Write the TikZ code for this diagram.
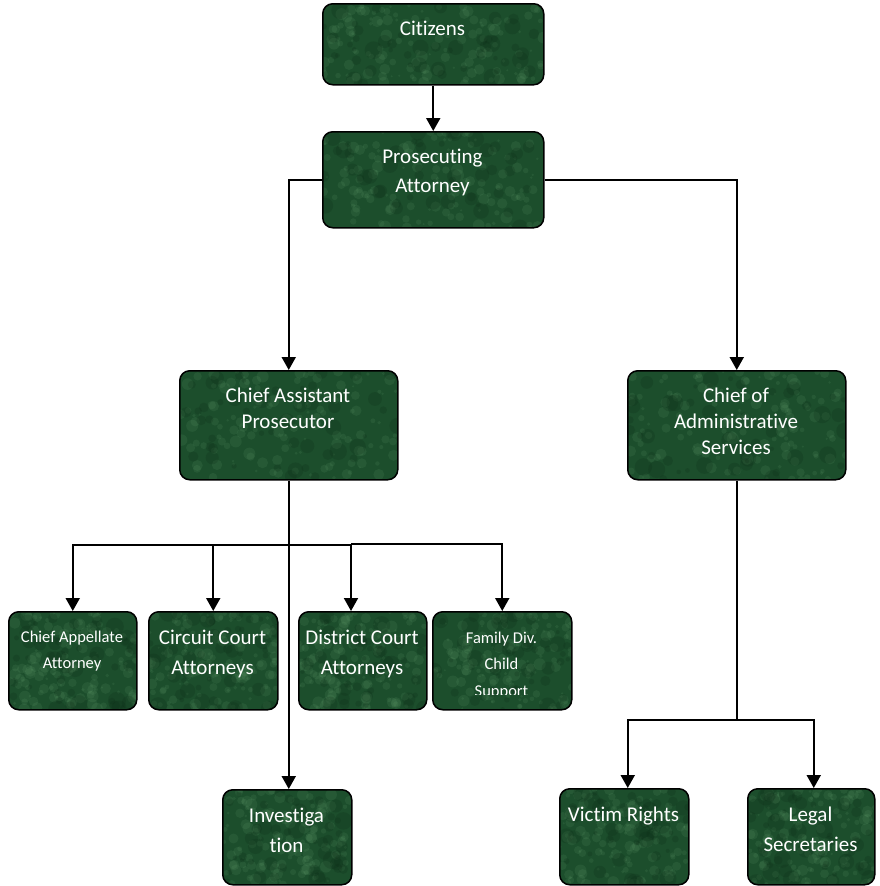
\documentclass[tikz,border=0pt]{standalone}
\usepackage{fontspec}
\setmainfont{Carlito}[Ligatures={NoCommon}]
\usetikzlibrary{arrows.meta}
\definecolor{boxgreen}{RGB}{28,78,44}
\definecolor{marblelight}{RGB}{110,170,120}
\definecolor{marbledark}{RGB}{10,40,20}
\newcommand\marbletex{%
  \pgfpointanchor{path picture bounding box}{south west}\pgfgetlastxy\mxa\mya
  \pgfpointanchor{path picture bounding box}{north east}\pgfgetlastxy\mxb\myb
  \foreach \k in {1,...,140}{%
    \pgfmathsetmacro\cxx{\mxa+rnd*(\mxb-\mxa)}%
    \pgfmathsetmacro\cyy{\mya+rnd*(\myb-\mya)}%
    \pgfmathsetmacro\crad{1+rnd*5}%
    \fill[marblelight,opacity=0.13] (\cxx pt,\cyy pt) circle[radius=\crad pt];}%
  \foreach \k in {1,...,50}{%
    \pgfmathsetmacro\cxx{\mxa+rnd*(\mxb-\mxa)}%
    \pgfmathsetmacro\cyy{\mya+rnd*(\myb-\mya)}%
    \pgfmathsetmacro\crad{2+rnd*7}%
    \fill[marbledark,opacity=0.2] (\cxx pt,\cyy pt) circle[radius=\crad pt];}%
}
\tikzset{
  orgbox/.style={draw=black, line width=1.5pt, rounded corners=10pt, fill=boxgreen,
    anchor=north west, inner sep=0pt, path picture={\marbletex}},
  lbl/.style={text=white, anchor=base, inner sep=0pt},
  conn/.style={draw=black, line width=2pt},
  arr/.style={conn, -{Triangle[length=13pt,width=14pt]}},
}
\newcommand\bigtxt[2]{\parbox[t]{#1}{\centering\fontsize{21}{27}\selectfont #2}}
\newcommand\bigtxtsp[3]{\parbox[t]{#1}{\centering\fontsize{21}{#2}\selectfont #3}}
\newcommand\smalltxt[2]{\parbox[t]{#1}{\centering\fontsize{16.5}{26.5}\selectfont #2}}
\begin{document}
\begin{tikzpicture}[x=1pt,y=-1pt]
\pgfmathsetseed{7}
\useasboundingbox (0,0) rectangle (879,886);
% boxes
\node[orgbox, minimum width=221pt, minimum height=81pt] (cit) at (322,3) {};
\node[orgbox, minimum width=221pt, minimum height=96pt] (pro) at (322,131) {};
\node[orgbox, minimum width=218pt, minimum height=109pt] (cap) at (179,370) {};
\node[orgbox, minimum width=218pt, minimum height=109pt] (cadm) at (627,370) {};
\node[orgbox, minimum width=128pt, minimum height=98pt] (app) at (8,611) {};
\node[orgbox, minimum width=129pt, minimum height=98pt] (circ) at (148,611) {};
\node[orgbox, minimum width=128pt, minimum height=98pt] (dist) at (298,611) {};
\node[orgbox, minimum width=139pt, minimum height=98pt] (fam) at (432,611) {};
\node[orgbox, minimum width=129pt, minimum height=95pt] (inv) at (222,789) {};
\node[orgbox, minimum width=129pt, minimum height=96pt] (vic) at (559,788) {};
\node[orgbox, minimum width=127pt, minimum height=96pt] (leg) at (747,788) {};
% labels
\node[lbl] (citT) at (432.5,35) {\bigtxt{215pt}{Citizens}};
\node[lbl] (proT) at (432.5,163) {\bigtxtsp{215pt}{29}{Prosecuting\\Attorney}};
\node[lbl] (capT) at (288,402) {\bigtxtsp{210pt}{26}{Chief Assistant\\Prosecutor}};
\node[lbl] (cadmT) at (736,402) {\bigtxtsp{210pt}{26}{Chief of\\Administrative\\Services}};
\node[lbl] (appT) at (72,642) {\smalltxt{126pt}{Chief Appellate\\Attorney}};
\node[lbl] (circT) at (212.5,644) {\bigtxtsp{126pt}{30}{Circuit Court\\Attorneys}};
\node[lbl] (distT) at (362,644) {\bigtxtsp{126pt}{30}{District Court\\Attorneys}};
\begin{scope}
\clip (432,611) rectangle (571,694);
\node[lbl] (famT) at (501.5,643) {\smalltxt{136pt}{Family Div.\\Child\\Support}};
\end{scope}
\node[lbl] (invT) at (286.5,822) {\bigtxtsp{126pt}{30}{Investiga\\tion}};
\node[lbl] (vicT) at (623.5,821) {\bigtxt{126pt}{Victim Rights}};
\node[lbl] (legT) at (810.5,821) {\bigtxtsp{126pt}{30}{Legal\\Secretaries}};
% connectors
\coordinate (jL) at (288,545);
\coordinate (jD) at (351,544);
\coordinate (jA) at (737,720);
\draw[arr] (cit) -- (pro);
\draw[arr] (pro.west) -| (cap.north);
\draw[arr] (pro.east) -| (cadm.north);
\draw[arr] (cap.south) -- (cap.south |- inv.north);
\draw[arr] (jL) -| (app.north);
\draw[arr] (jL) -| (circ.north);
\draw[conn] (jL) -- (jD |- jL);
\draw[arr] (jD) -- (jD |- dist.north);
\draw[arr] (jD) -| (fam.north);
\draw[conn] (cadm.south) -- (cadm.south |- jA);
\draw[arr] (cadm.south |- jA) -| ([xshift=3.5pt]vic.north);
\draw[arr] (cadm.south |- jA) -| ([xshift=2.5pt]leg.north);
\end{tikzpicture}
\end{document}
